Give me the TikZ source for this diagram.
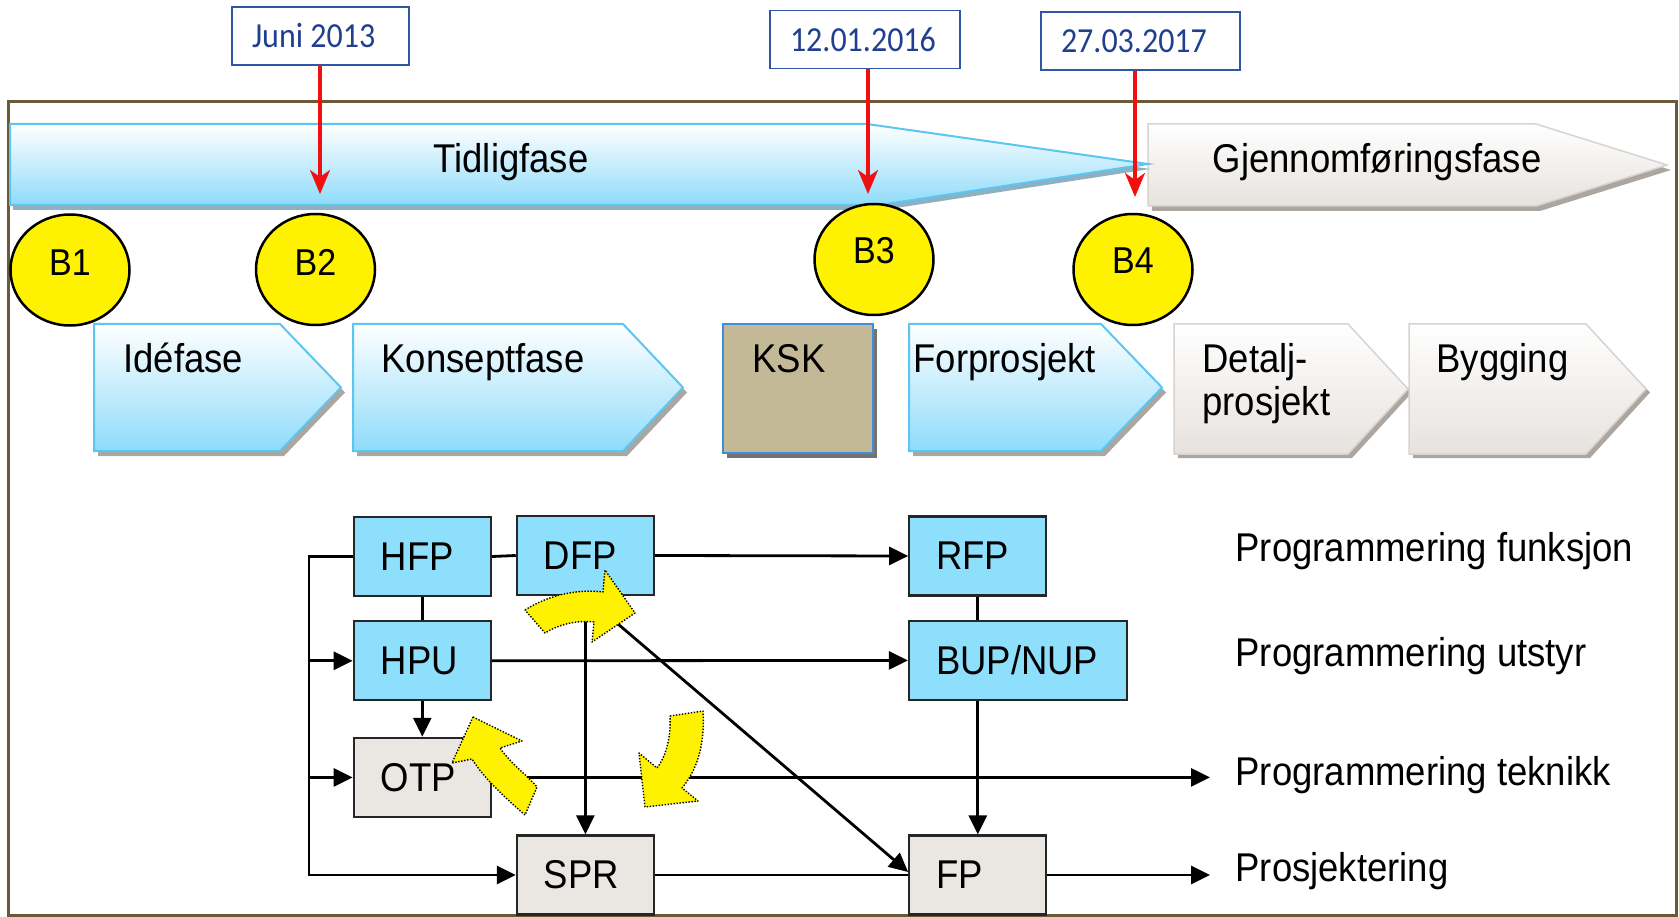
\documentclass[tikz,border=0pt]{standalone}
\usepackage{fontspec}
\usepackage{graphicx}
\setmainfont{Liberation Sans}
\newfontfamily\datefont{Carlito}
\usetikzlibrary{arrows.meta,shapes.geometric,calc}
\definecolor{frameC}{HTML}{6A5A38}
\definecolor{lblue}{HTML}{8FDBFA}
\definecolor{bblue}{HTML}{5BC6F2}
\definecolor{boxblue}{HTML}{8EDFFB}
\definecolor{boxgrey}{HTML}{EAE6E2}
\definecolor{chgrey}{HTML}{E6E2DE}
\definecolor{chgreyB}{HTML}{D8D3CE}
\definecolor{kskC}{HTML}{C3B997}
\definecolor{kskB}{HTML}{3E8EDB}
\definecolor{dateC}{HTML}{203F8F}
\definecolor{dateB}{HTML}{3355A5}
\definecolor{shadowC}{HTML}{ABA69F}
\definecolor{shadowB}{HTML}{8FB0C0}
\definecolor{redC}{HTML}{F01010}
\newcommand{\vs}[1]{\scalebox{1}[1.1]{#1}}
\newcommand{\bxt}[2]{\makebox[#1][l]{\hspace{27pt}\vs{#2}}}
\newcommand{\dxt}[2]{\makebox[#1][l]{\hspace{20pt}\vs{#2}}}
\begin{document}
\begin{tikzpicture}[x=1pt,y=-1pt,
  big/.style={font=\fontsize{36.5}{40}\selectfont},
  datebox/.style={draw=dateB, line width=1.2pt, fill=white, inner sep=0pt,
     minimum height=58pt, text=dateC, font=\datefont\fontsize{32}{36}\selectfont},
  redarrow/.style={draw=redC, line width=3.5pt, -{Stealth[length=24pt,width=20pt,inset=7pt]}},
  bell/.style={ellipse, draw=black, line width=2.5pt, fill=yellow, minimum width=119pt,
     minimum height=111pt, inner sep=0pt},
  btxt/.style={font=\fontsize{34}{38}\selectfont},
  bluech/.style={draw=bblue, line width=2pt, top color=white, bottom color=lblue},
  greych/.style={draw=chgreyB, line width=1.5pt, top color=white, bottom color=chgrey},
  shad/.style={fill=shadowC},
  fbox/.style={draw=black!85, line width=2.3pt, inner sep=0pt, minimum height=79pt, big},
  fblue/.style={fbox, fill=boxblue},
  fgrey/.style={fbox, fill=boxgrey},
  ln/.style={draw=black, line width=2.8pt},
  arr/.style={ln, -{Triangle[length=19pt,width=18pt]}},
  yarrow/.style={fill=yellow, draw=black, line width=1.4pt, dash pattern=on 1.4pt off 1.6pt, line join=round},
  lbl/.style={big, anchor=base west}
]
\useasboundingbox (0,0) rectangle (1679,917);
% frame
\draw[frameC, line width=3pt] (8.5,101.5) rectangle (1676.5,915.5);

% Gjennomfoeringsfase
\fill[shad] (1152,129) -- (1540,129) -- (1671,170) -- (1540,211) -- (1152,211) -- cycle;
\draw[greych] (1148,124) -- (1536,124) -- (1667,165) -- (1536,206) -- (1148,206) -- cycle;
\node[big, anchor=base] (gjf) at (1377,173) {\vs{Gjennomføringsfase}};

% Tidligfase
\fill[shadowB] (13,129) -- (870,129) -- (1150,169) -- (883,210) -- (13,210) -- cycle;
\draw[bluech] (10,124) -- (867,124) -- (1148,164) -- (880,205) -- (10,205) -- cycle;
\node[big, anchor=base] (tid) at (511,173) {\vs{Tidligfase}};

% date boxes and red arrows
\node[datebox, minimum width=177pt] (d1) at (320.5,36) {\dxt{177pt}{Juni 2013}};
\node[datebox, minimum width=190pt] (d2) at (865,39.5) {\dxt{190pt}{12.01.2016}};
\node[datebox, minimum width=199pt] (d3) at (1140.5,41) {\dxt{199pt}{27.03.2017}};
\coordinate (t1) at (320,194);
\coordinate (t2) at (868,194);
\coordinate (t3) at (1135,197);
\draw[redarrow] (d1.south -| t1) -- (t1);
\draw[redarrow] (d2.south -| t2) -- (t2);
\draw[redarrow] (d3.south -| t3) -- (t3);

% milestones
\node[bell] (B1) at (70,270) {};
\node[bell] (B2) at (315.5,269.5) {};
\node[bell] (B3) at (874,259.5) {};
\node[bell] (B4) at (1133,269.5) {};
\node[btxt] at ([yshift=7pt]B1.center) {\vs{B1}};
\node[btxt] at ([yshift=7pt]B2.center) {\vs{B2}};
\node[btxt] at ([yshift=9pt]B3.center) {\vs{B3}};
\node[btxt] at ([yshift=9pt]B4.center) {\vs{B4}};

% phase chevrons
\fill[shad] (98,329) -- (284,329) -- (345,392.5) -- (284,456) -- (98,456) -- cycle;
\draw[bluech] (94,324) -- (280,324) -- (341,387.5) -- (280,451) -- (94,451) -- cycle;
\fill[shad] (357,329) -- (627,329) -- (687,392.5) -- (627,456) -- (357,456) -- cycle;
\draw[bluech] (353,324) -- (623,324) -- (683,387.5) -- (623,451) -- (353,451) -- cycle;
\fill[black!55] (727,329) rectangle (877,458);
\draw[draw=kskB, line width=2.5pt, fill=kskC] (723,324) rectangle (873,453);
\fill[shad] (913,329) -- (1105,329) -- (1166,392.5) -- (1105,456) -- (913,456) -- cycle;
\draw[bluech] (909,324) -- (1101,324) -- (1162,387.5) -- (1101,451) -- (909,451) -- cycle;
\fill[shad] (1178,329) -- (1352,329) -- (1412,392.5) -- (1352,458) -- (1178,458) -- cycle;
\draw[greych] (1174,324) -- (1348,324) -- (1408,389) -- (1348,454) -- (1174,454) -- cycle;
\fill[shad] (1413,329) -- (1590,329) -- (1650,392.5) -- (1590,458) -- (1413,458) -- cycle;
\draw[greych] (1409,324) -- (1586,324) -- (1646,389) -- (1586,454) -- (1409,454) -- cycle;

\node[lbl] (p1) at (120,372) {\vs{Idéfase}};
\node[lbl] (p2) at (378,372) {\vs{Konseptfase}};
\node[lbl] (p3) at (749,372) {\vs{KSK}};
\node[lbl] (p4) at (910,372) {\vs{Forprosjekt}};
\node[lbl] (p5) at (1199,372) {\vs{Detalj-}};
\node[lbl] (p5b) at (1199,415) {\vs{prosjekt}};
\node[lbl] (p6) at (1433,372) {\vs{Bygging}};

% flow boxes
\node[fblue, minimum width=137pt] (HFP) at (422.3,556.5) {\bxt{137pt}{HFP}};
\node[fblue, minimum width=137pt] (DFP) at (585.4,555.5) {\bxt{137pt}{DFP}};
\node[fblue, minimum width=137pt] (RFP) at (977.8,556) {\bxt{137pt}{RFP}};
\node[fblue, minimum width=137pt] (HPU) at (422.3,660.8) {\bxt{137pt}{HPU}};
\node[fblue, minimum width=218pt] (BUP) at (1018,660.4) {\bxt{218pt}{BUP/NUP}};
\node[fgrey, minimum width=137pt] (OTP) at (422.3,777.4) {\bxt{137pt}{OTP}};
\node[fgrey, minimum width=137pt] (SPR) at (585.4,875) {\bxt{137pt}{SPR}};
\node[fgrey, minimum width=137pt] (FP) at (977.8,875) {\bxt{137pt}{FP}};

\node[lbl] (L1) at (1232,561.7) {\vs{Programmering funksjon}};
\node[lbl] (L2) at (1232,666.7) {\vs{Programmering utstyr}};
\node[lbl] (L3) at (1232,785) {\vs{Programmering teknikk}};
\node[lbl] (L4) at (1232,881.7) {\vs{Prosjektering}};

\coordinate (busTop) at (309,556.5);
\coordinate (out3) at (1210,777.4);
\coordinate (out4) at (1210,875);

% connectors
\draw[arr] (HFP.west) -- (busTop) |- (SPR.west);
\draw[arr] (busTop |- HPU.west) -- (HPU.west);
\draw[arr] (busTop |- OTP.west) -- (OTP.west);
\draw[ln] (HFP.east) -- (DFP.west);
\draw[arr] (DFP.east) -- (RFP.west);
\draw[ln] (HFP.south) -- (HPU.north);
\draw[arr] (HPU.south) -- (OTP.north);
\draw[arr] (HPU.east) -- (BUP.west);
\draw[ln] (RFP.south) -- (RFP.south |- BUP.north);
\draw[arr] (FP.north |- BUP.south) -- (FP.north);
\draw[arr] (DFP.south) -- (SPR.north);
\draw[arr] (DFP.south) -- ([yshift=3pt]FP.west);
\draw[ln] (SPR.east) -- (FP.west);
\draw[arr] (OTP.east) -- (out3);
\draw[arr] (FP.east) -- (out4);

% yellow curved arrows
\draw[yarrow] (525,610) .. controls (550,594) and (580,589) .. (603,592) -- (605,570) -- (635,613) -- (592,642) -- (594,622) .. controls (575,620) and (558,625) .. (545,633) -- cycle;
\draw[yarrow] (473,717) -- (522,741) -- (500,748) .. controls (512,765) and (527,775) .. (537,787) -- (525,815) .. controls (508,800) and (485,780) .. (472,759) -- (452,763) -- cycle;
\draw[yarrow] (670,716) -- (703,711) .. controls (705,745) and (697,770) .. (682,788) -- (698,801) -- (645,807) -- (639,753) -- (657,768) .. controls (667,755) and (671,735) .. (670,716) -- cycle;
\end{tikzpicture}
\end{document}
